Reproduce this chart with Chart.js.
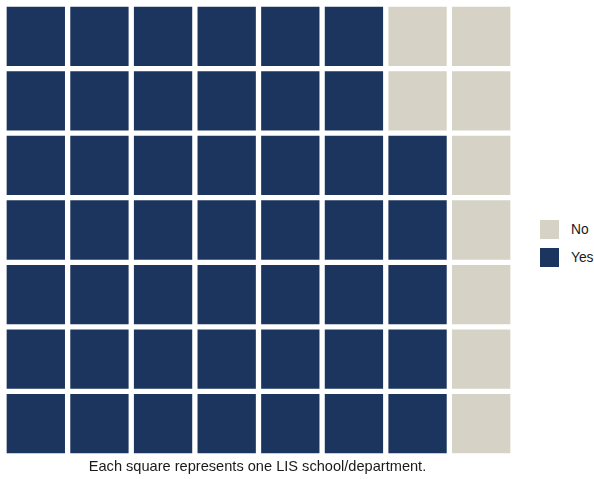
<!DOCTYPE html>
<html>
<head>
<meta charset="utf-8">
<script src="https://cdn.jsdelivr.net/npm/chart.js@4.4.1/dist/chart.umd.min.js"></script>
<style>
  body { margin: 0; background: #fff; font-family: "Liberation Sans", Arial, sans-serif; }
  #wrap { position: relative; width: 594px; height: 479px; }
  #box { position: absolute; left: 0; top: 0; width: 520px; height: 460px; }
  #caption { position: absolute; left: 0; width: 515px; top: 458px; text-align: center; font-size: 14.6px; line-height: 17px; color: #1a1a1a; }
  #legend { position: absolute; left: 540px; top: 220px; font-size: 13.8px; color: #1a1a1a; }
  .item { display: flex; align-items: center; height: 19px; margin-bottom: 8.5px; }
  .swatch { width: 19px; height: 19px; margin-right: 12px; }
</style>
</head>
<body>
<div id="wrap">
  <div id="box"><canvas id="waffle"></canvas></div>
  <div id="legend"></div>
  <div id="caption">Each square represents one LIS school/department.</div>
</div>
<script>
// answers and how many schools gave each one
var answers = ['No', 'Yes'];
var counts = [9, 47];
var colours = ['#D6D3C6', '#1C355E'];
var nCols = 8;
var nRows = 7;

// fill the grid column by column, bottom to top, "Yes" first
var order = [1, 0];
var cells = [];
order.forEach(function (k) {
  for (var i = 0; i < counts[k]; i++) cells.push(k);
});

var columns = [];
for (var c = 0; c < nCols; c++) columns.push('c' + (c + 1));

// one stacked dataset per row, each column a single unit
var datasets = [];
for (var r = 0; r < nRows; r++) {
  var bg = [];
  var vals = [];
  for (var c = 0; c < nCols; c++) {
    bg.push(colours[cells[c * nRows + r]]);
    vals.push(1);
  }
  datasets.push({
    data: vals,
    backgroundColor: bg,
    borderColor: '#ffffff',
    borderWidth: 2.65,
    borderSkipped: false,
    inflateAmount: 0,
    barPercentage: 1,
    categoryPercentage: 1
  });
}

new Chart(document.getElementById('waffle'), {
  type: 'bar',
  data: { labels: columns, datasets: datasets },
  options: {
    responsive: true,
    maintainAspectRatio: false,
    animation: false,
    layout: { padding: { left: 4, top: 4, right: 7, bottom: 4 } },
    scales: {
      x: { stacked: true, display: false },
      y: { stacked: true, display: false, min: 0, max: nRows }
    },
    plugins: { legend: { display: false }, tooltip: { enabled: false } }
  }
});

var legend = document.getElementById('legend');
answers.forEach(function (name, i) {
  var row = document.createElement('div');
  row.className = 'item';
  row.innerHTML = '<span class="swatch" style="background:' + colours[i] + '"></span>' + name;
  legend.appendChild(row);
});
</script>
</body>
</html>
